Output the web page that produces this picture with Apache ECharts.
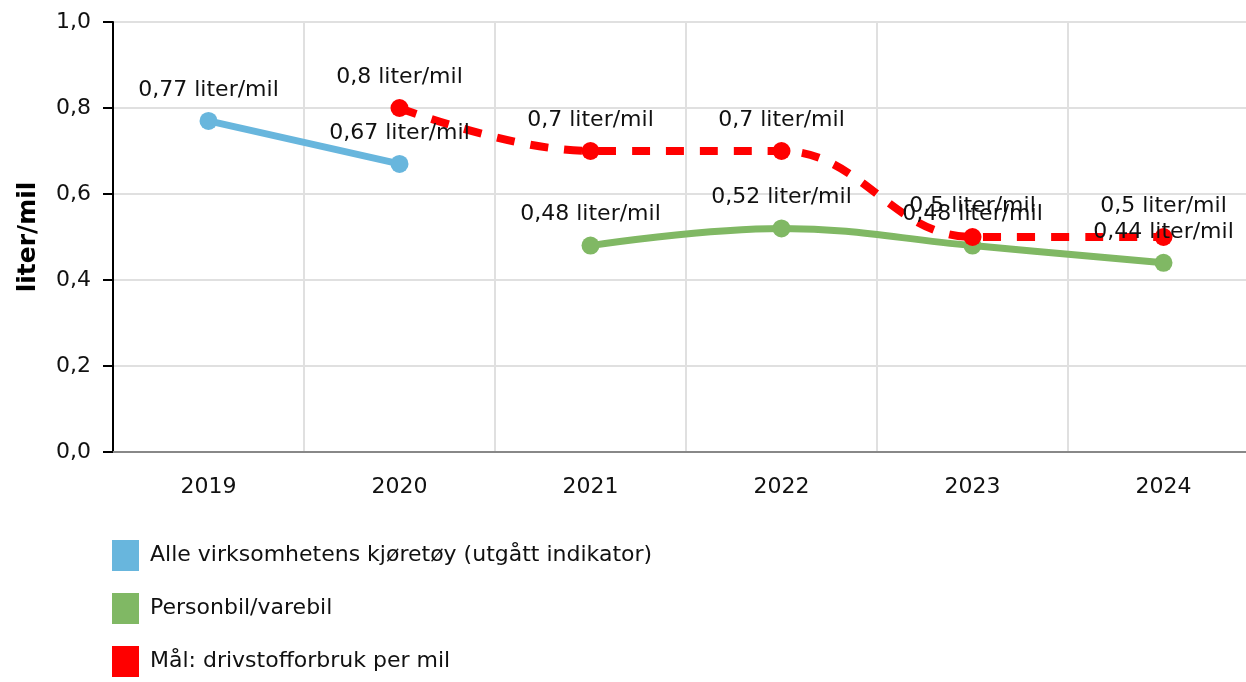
<!DOCTYPE html>
<html>
<head>
<meta charset="utf-8">
<script src="https://cdn.jsdelivr.net/npm/echarts@6/dist/echarts.min.js"></script>
<style>
  html, body { margin: 0; padding: 0; background: #fff; }
  #chart { width: 1246px; height: 682px; }
</style>
</head>
<body>
<div id="chart"></div>
<script>
// år på x-aksen
const years = ['2019', '2020', '2021', '2022', '2023', '2024'];
// liter per mil, null = ingen måling
const alleKjoretoy = [0.77, 0.67, null, null, null, null];
const personbil = [null, null, 0.48, 0.52, 0.48, 0.44];
const maal = [null, 0.8, 0.7, 0.7, 0.5, 0.5];

const names = [
  'Alle virksomhetens kjøretøy (utgått indikator)',
  'Personbil/varebil',
  'Mål: drivstofforbruk per mil'
];
const colors = ['#68b6dd', '#80b864', '#ff0000'];
const font = 'DejaVu Sans, Verdana, sans-serif';

const fmt = v => String(v).replace('.', ',');

const label = {
  show: true,
  position: 'top',
  distance: 11,
  color: '#111',
  fontFamily: font,
  fontSize: 22,
  formatter: p => fmt(p.value) + ' liter/mil'
};

const chart = echarts.init(document.getElementById('chart'));
chart.setOption({
  animation: false,
  color: colors,
  // plottet fortsetter litt forbi høyre kant
  grid: { left: 113, top: 22, width: 1146, bottom: 230, containLabel: false, outerBoundsMode: 'none' },
  legend: {
    orient: 'vertical',
    left: 112,
    top: 540,
    padding: 0,
    icon: 'rect',
    itemWidth: 27,
    itemHeight: 31,
    itemGap: 22,
    selectedMode: false,
    itemStyle: { borderWidth: 0 },
    textStyle: { fontFamily: font, fontSize: 22, color: '#111', padding: [0, 0, 0, 6] },
    data: names
  },
  xAxis: {
    type: 'category',
    data: years,
    boundaryGap: true,
    axisLine: { lineStyle: { color: '#888', width: 2 } },
    axisTick: { alignWithLabel: true, length: 9, lineStyle: { color: '#aaa', width: 2 } },
    axisLabel: { color: '#111', fontFamily: font, fontSize: 22, margin: 24 },
    splitLine: { show: true, lineStyle: { color: '#e0e0e0', width: 2 } }
  },
  yAxis: {
    type: 'value',
    min: 0,
    max: 1,
    interval: 0.2,
    name: 'liter/mil',
    nameLocation: 'middle',
    nameGap: 72,
    nameTextStyle: { fontFamily: font, fontSize: 25, fontWeight: 'bold', color: '#000' },
    axisLine: { show: true, lineStyle: { color: '#000', width: 2 } },
    axisTick: { show: true, length: 10, lineStyle: { color: '#000', width: 2 } },
    axisLabel: { color: '#111', fontFamily: font, fontSize: 22, margin: 22, formatter: v => v.toFixed(1).replace('.', ',') },
    splitLine: { lineStyle: { color: '#e0e0e0', width: 2 } }
  },
  series: [
    {
      name: names[0], type: 'line', data: alleKjoretoy,
      symbol: 'circle', symbolSize: 18,
      lineStyle: { width: 7 },
      label: label
    },
    {
      name: names[1], type: 'line', data: personbil, smooth: 0.4,
      symbol: 'circle', symbolSize: 18,
      lineStyle: { width: 7 },
      label: label
    },
    {
      name: names[2], type: 'line', data: maal, smooth: 0.4,
      symbol: 'circle', symbolSize: 18,
      lineStyle: { width: 8, type: [18, 16] },
      label: label
    }
  ]
});
</script>
</body>
</html>
